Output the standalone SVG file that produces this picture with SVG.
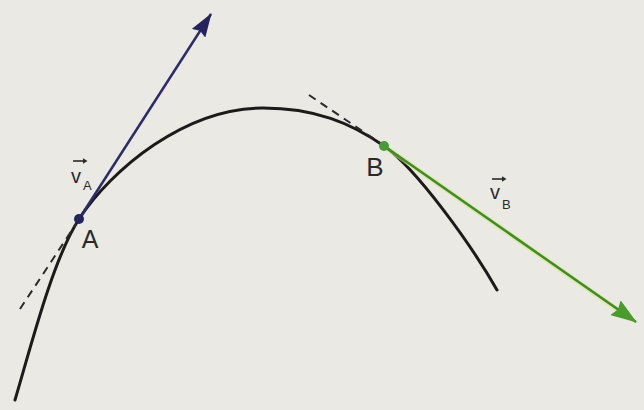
<svg xmlns="http://www.w3.org/2000/svg" width="644" height="410" viewBox="0 0 644 410">
<defs>
<style>
.curve{fill:none;stroke:#1c1b1a;stroke-width:3;stroke-linecap:round}
.dash{fill:none;stroke:#2a2a2a;stroke-width:2;stroke-dasharray:8 6}
.va{stroke:#2e2c68;stroke-width:2.5;fill:none}
.vb{stroke:#3f8a2a;stroke-width:2.5;fill:none}
.lbl{font-family:"Liberation Sans",Arial,sans-serif;fill:#2a2a2a}
</style>
<marker id="ha" viewBox="0 0 24 16" refX="23" refY="8" markerWidth="24" markerHeight="16" markerUnits="userSpaceOnUse" orient="auto">
<path d="M0,0 L24,8 L0,16 L3,8 Z" fill="#25235e"/>
</marker>
<marker id="hb" viewBox="0 0 26 18" refX="25" refY="9" markerWidth="26" markerHeight="18" markerUnits="userSpaceOnUse" orient="auto">
<path d="M0,0 L26,9 L0,18 L3,9 Z" fill="#4a9a2c"/>
</marker>
</defs>
<rect width="644" height="410" fill="#eae9e4"/>
<g id="trajectory">
<path class="curve" d="M15,400 C30,350 52,261 79,219 C112,169 185,108 263,108 C315,108 351,123 384,146 C417,169 472,246 497,290"/>
</g>
<g id="connectors">
<line class="dash" x1="20" y1="309" x2="76" y2="224"/>
<line class="dash" x1="309" y1="95" x2="380" y2="143"/>
<line class="va" x1="79" y1="219" x2="211" y2="14" marker-end="url(#ha)"/>
<line x1="384" y1="146" x2="628" y2="317" stroke="#d6ea7a" stroke-width="5" opacity="0.6"/>
<line class="vb" x1="384" y1="146" x2="636" y2="322" marker-end="url(#hb)"/>
</g>
<g id="A">
<circle cx="79" cy="219" r="5" fill="#25235e"/>
<text class="lbl" x="90" y="248" font-size="25" text-anchor="middle">A</text>
</g>
<g id="B">
<circle cx="384" cy="146" r="5" fill="#4a9a3a"/>
<text class="lbl" x="375" y="176" font-size="26" text-anchor="middle">B</text>
</g>
<g id="vA">
<text class="lbl" x="71" y="183" font-size="20">v</text>
<text class="lbl" x="83" y="190" font-size="13">A</text>
<line x1="73" y1="161" x2="85" y2="161" stroke="#2a2a2a" stroke-width="1.6"/>
<path d="M83,158.3 L87.5,161 L83,163.7 Z" fill="#2a2a2a"/>
</g>
<g id="vB">
<text class="lbl" x="490" y="199" font-size="20">v</text>
<text class="lbl" x="502" y="209" font-size="13">B</text>
<line x1="492" y1="179" x2="504" y2="179" stroke="#2a2a2a" stroke-width="1.6"/>
<path d="M502,176.3 L506.5,179 L502,181.7 Z" fill="#2a2a2a"/>
</g>
</svg>
